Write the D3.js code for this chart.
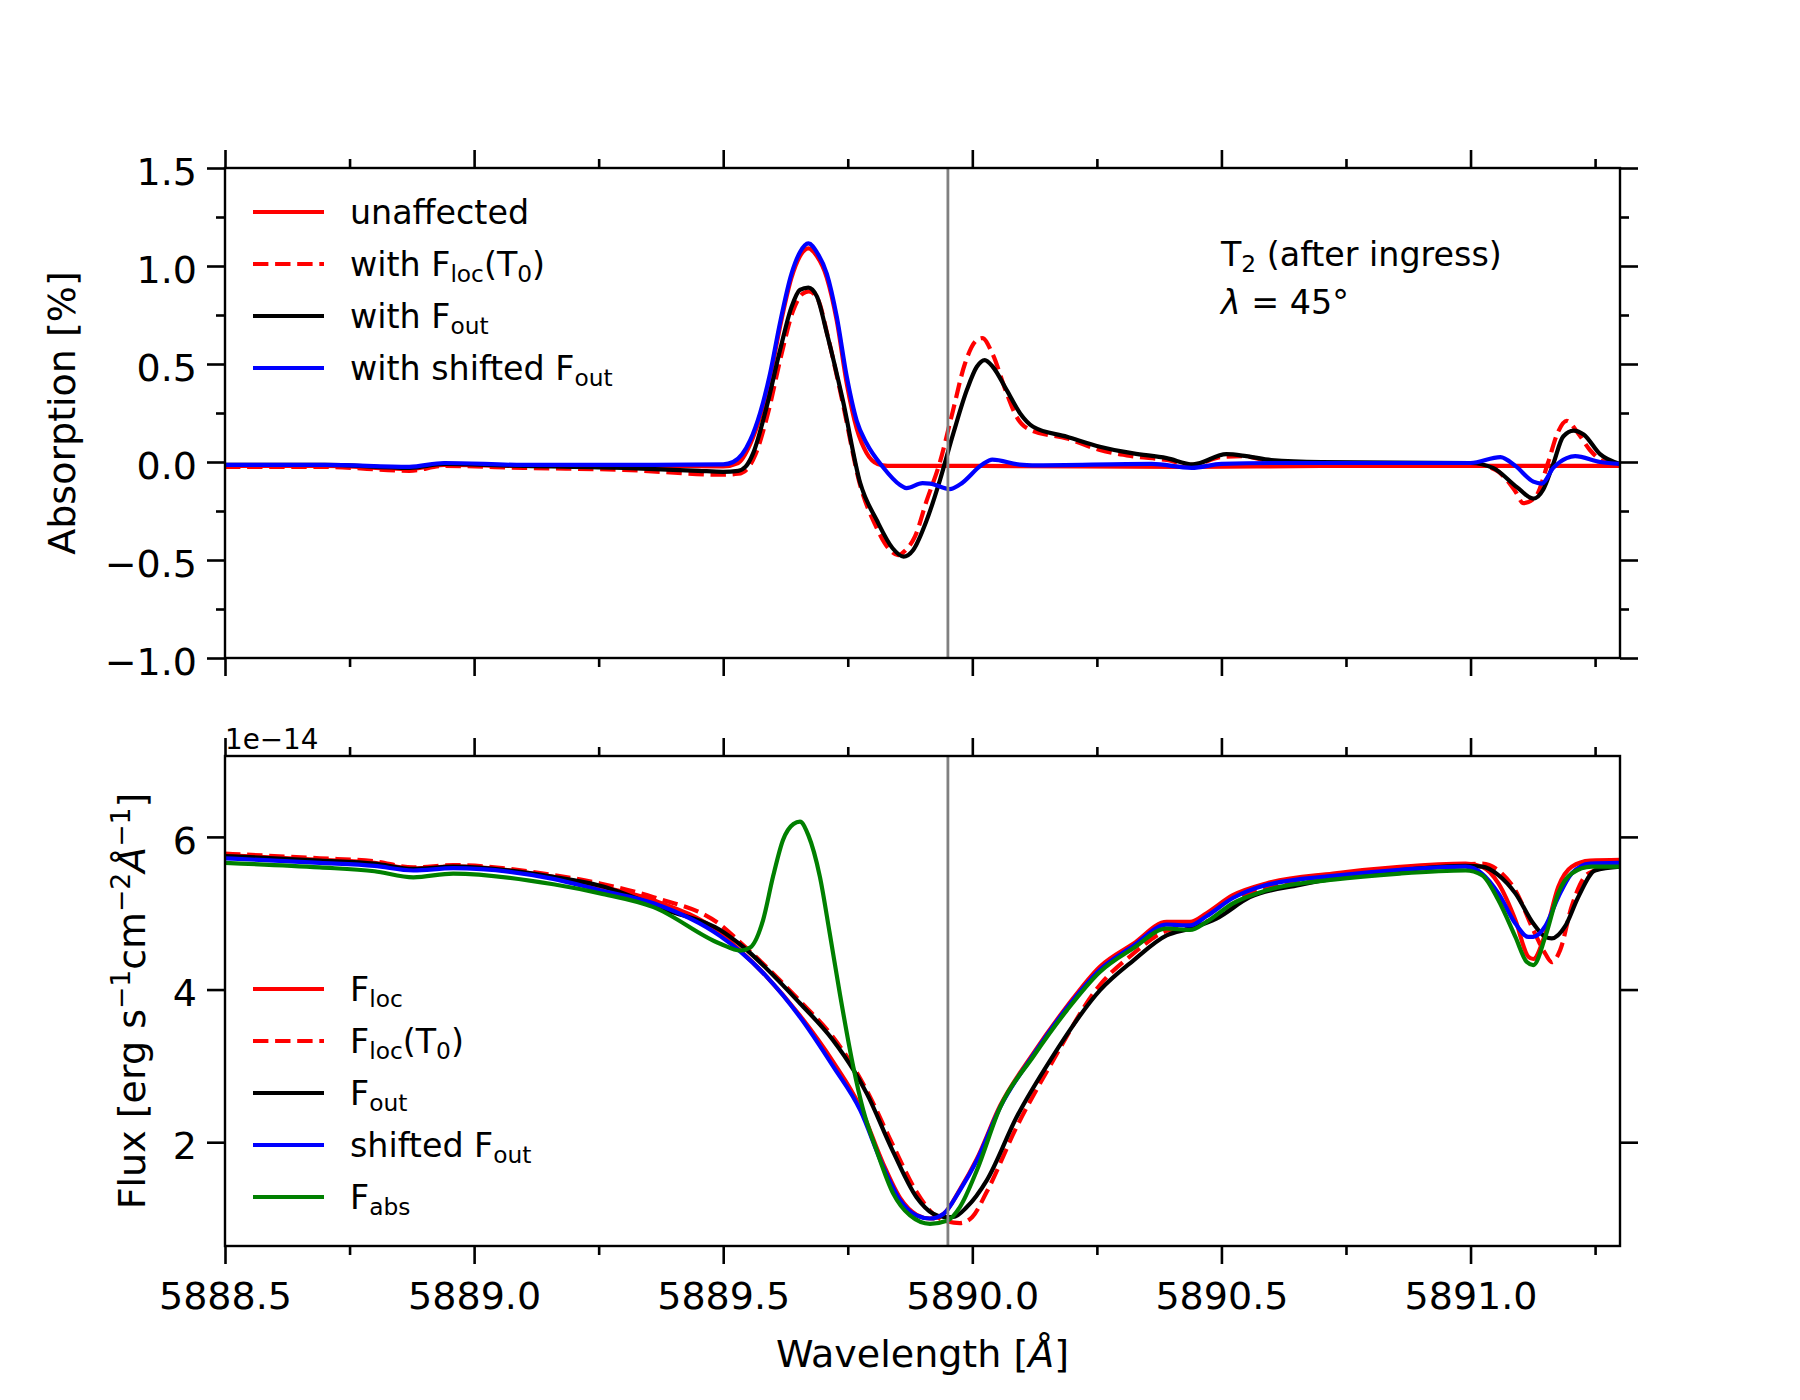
<!DOCTYPE html>
<html>
<head>
<meta charset="utf-8">
<script src="https://cdn.jsdelivr.net/npm/d3@7"></script>
<style>
  body { margin: 0; background: #fff; }
  text { font-family: "DejaVu Sans", sans-serif; fill: #000; }
</style>
</head>
<body>
<svg id="chart" width="1800" height="1400"></svg>
<script>
// ---- top panel: absorption [%] ----
var absUnaffWl = [5888.5, 5888.7, 5888.87, 5888.94, 5889.1, 5889.3, 5889.5, 5889.53, 5889.554, 5889.574, 5889.594, 5889.614, 5889.637, 5889.654, 5889.671, 5889.688, 5889.708, 5889.728, 5889.748, 5889.768, 5889.788, 5889.81, 5889.83, 5890.0, 5890.44, 5890.7, 5891.0, 5891.3];
var absUnaff = [-0.02, -0.02, -0.035, -0.015, -0.02, -0.02, -0.022, -0.005, 0.09, 0.23, 0.43, 0.69, 0.94, 1.05, 1.09, 1.05, 0.94, 0.72, 0.40, 0.17, 0.045, -0.01, -0.02, -0.02, -0.025, -0.02, -0.02, -0.02];

var absLocT0Wl = [5888.5, 5888.7, 5888.87, 5888.94, 5889.1, 5889.3, 5889.5, 5889.53, 5889.55, 5889.565, 5889.59, 5889.617, 5889.64, 5889.66, 5889.672, 5889.69, 5889.71, 5889.74, 5889.775, 5889.805, 5889.835, 5889.851, 5889.866, 5889.885, 5889.908, 5889.935, 5889.96, 5889.985, 5890.008, 5890.02, 5890.04, 5890.069, 5890.089, 5890.12, 5890.19, 5890.256, 5890.32, 5890.39, 5890.44, 5890.5, 5890.54, 5890.6, 5890.7, 5891.0, 5891.05, 5891.09, 5891.106, 5891.13, 5891.156, 5891.175, 5891.193, 5891.215, 5891.24, 5891.27, 5891.3];
var absLocT0 = [-0.025, -0.025, -0.045, -0.02, -0.03, -0.04, -0.065, -0.06, -0.03, 0.04, 0.25, 0.55, 0.77, 0.86, 0.87, 0.83, 0.64, 0.30, -0.12, -0.32, -0.45, -0.475, -0.45, -0.38, -0.2, 0.0, 0.25, 0.5, 0.62, 0.632, 0.555, 0.35, 0.23, 0.16, 0.12, 0.061, 0.03, 0.01, -0.015, 0.025, 0.03, 0.005, -0.005, -0.01, -0.04, -0.15, -0.21, -0.18, 0.0, 0.15, 0.21, 0.15, 0.06, 0.0, -0.01];

var absOutWl = [5888.5, 5888.7, 5888.87, 5888.94, 5889.1, 5889.3, 5889.45, 5889.5, 5889.53, 5889.545, 5889.56, 5889.587, 5889.614, 5889.637, 5889.654, 5889.671, 5889.688, 5889.708, 5889.74, 5889.775, 5889.808, 5889.84, 5889.862, 5889.881, 5889.908, 5889.935, 5889.962, 5889.989, 5890.009, 5890.025, 5890.041, 5890.069, 5890.096, 5890.122, 5890.19, 5890.256, 5890.323, 5890.39, 5890.443, 5890.51, 5890.55, 5890.6, 5890.7, 5891.0, 5891.045, 5891.093, 5891.126, 5891.146, 5891.166, 5891.186, 5891.207, 5891.227, 5891.26, 5891.3];
var absOut = [-0.015, -0.015, -0.03, -0.01, -0.02, -0.03, -0.045, -0.05, -0.045, -0.024, 0.044, 0.28, 0.57, 0.79, 0.878, 0.89, 0.845, 0.657, 0.316, -0.108, -0.296, -0.44, -0.483, -0.45, -0.30, -0.092, 0.147, 0.367, 0.486, 0.52, 0.486, 0.367, 0.248, 0.18, 0.129, 0.078, 0.044, 0.02, -0.012, 0.04, 0.03, 0.01, 0.0, -0.005, -0.03, -0.128, -0.187, -0.14, -0.01, 0.13, 0.16, 0.14, 0.04, -0.01];

var absShiftWl = [5888.5, 5888.7, 5888.87, 5888.94, 5889.1, 5889.3, 5889.5, 5889.52, 5889.554, 5889.574, 5889.594, 5889.614, 5889.637, 5889.654, 5889.671, 5889.688, 5889.708, 5889.728, 5889.748, 5889.768, 5889.788, 5889.82, 5889.855, 5889.868, 5889.9, 5889.915, 5889.955, 5889.975, 5890.02, 5890.04, 5890.095, 5890.12, 5890.36, 5890.44, 5890.5, 5890.6, 5891.0, 5891.06, 5891.09, 5891.126, 5891.143, 5891.166, 5891.193, 5891.21, 5891.26, 5891.3];
var absShift = [-0.015, -0.015, -0.025, -0.005, -0.015, -0.015, -0.012, 0.0, 0.11, 0.25, 0.45, 0.71, 0.96, 1.07, 1.115, 1.07, 0.96, 0.74, 0.435, 0.21, 0.094, -0.024, -0.117, -0.133, -0.108, -0.11, -0.138, -0.115, -0.013, 0.012, -0.013, -0.017, -0.01, -0.03, -0.01, -0.005, -0.005, 0.025, -0.02, -0.10, -0.11, -0.03, 0.02, 0.03, 0.0, -0.01];

// ---- bottom panel: flux [1e-14 erg/s/cm2/A] ----
var fluxLocWl = [5888.5, 5888.69, 5888.8, 5888.878, 5888.958, 5889.159, 5889.253, 5889.36, 5889.494, 5889.534, 5889.587, 5889.654, 5889.721, 5889.775, 5889.821, 5889.855, 5889.888, 5889.915, 5889.942, 5889.975, 5890.009, 5890.056, 5890.122, 5890.19, 5890.256, 5890.323, 5890.39, 5890.437, 5890.47, 5890.523, 5890.59, 5890.724, 5890.858, 5890.99, 5891.023, 5891.056, 5891.09, 5891.116, 5891.126, 5891.15, 5891.176, 5891.203, 5891.24, 5891.3];
var fluxLoc = [5.76, 5.70, 5.66, 5.585, 5.615, 5.476, 5.35, 5.17, 4.74, 4.51, 4.17, 3.66, 3.05, 2.46, 1.72, 1.27, 1.05, 1.0, 1.06, 1.38, 1.78, 2.48, 3.16, 3.78, 4.30, 4.60, 4.886, 4.886, 5.0, 5.236, 5.39, 5.52, 5.607, 5.65, 5.61, 5.39, 4.91, 4.43, 4.40, 4.73, 5.345, 5.61, 5.69, 5.70];
var fluxShift = [5.72, 5.66, 5.62, 5.56, 5.59, 5.45, 5.30, 5.13, 4.70, 4.50, 4.17, 3.64, 2.99, 2.42, 1.68, 1.24, 1.04, 1.0, 1.06, 1.37, 1.76, 2.46, 3.14, 3.76, 4.26, 4.57, 4.85, 4.84, 4.96, 5.20, 5.37, 5.49, 5.57, 5.61, 5.52, 5.26, 4.865, 4.69, 4.69, 4.83, 5.21, 5.52, 5.65, 5.66];

var fluxLocT0Wl = [5888.5, 5888.69, 5888.8, 5888.878, 5888.958, 5889.159, 5889.253, 5889.36, 5889.494, 5889.534, 5889.654, 5889.72, 5889.762, 5889.788, 5889.84, 5889.888, 5889.92, 5889.95, 5889.975, 5890.0, 5890.029, 5890.089, 5890.156, 5890.256, 5890.323, 5890.39, 5890.437, 5890.49, 5890.557, 5890.7, 5890.858, 5890.99, 5891.023, 5891.056, 5891.09, 5891.126, 5891.15, 5891.163, 5891.18, 5891.203, 5891.236, 5891.3];
var fluxLocT0 = [5.78, 5.72, 5.68, 5.60, 5.63, 5.50, 5.39, 5.21, 4.85, 4.62, 3.85, 3.38, 2.98, 2.68, 1.97, 1.35, 1.07, 0.96, 0.94, 1.02, 1.35, 2.20, 3.0, 4.06, 4.47, 4.77, 4.82, 4.95, 5.26, 5.45, 5.59, 5.64, 5.65, 5.56, 5.30, 4.78, 4.47, 4.36, 4.52, 5.09, 5.52, 5.64];

var fluxOutWl = [5888.5, 5888.69, 5888.8, 5888.878, 5888.958, 5889.159, 5889.253, 5889.387, 5889.494, 5889.534, 5889.654, 5889.72, 5889.762, 5889.788, 5889.84, 5889.888, 5889.922, 5889.942, 5889.962, 5889.989, 5890.029, 5890.089, 5890.156, 5890.256, 5890.323, 5890.39, 5890.437, 5890.49, 5890.557, 5890.657, 5890.858, 5890.99, 5891.023, 5891.056, 5891.09, 5891.126, 5891.15, 5891.163, 5891.19, 5891.216, 5891.25, 5891.3];
var fluxOut = [5.75, 5.69, 5.65, 5.58, 5.61, 5.476, 5.36, 5.04, 4.78, 4.59, 3.82, 3.34, 2.94, 2.64, 1.89, 1.28, 1.06, 1.02, 1.02, 1.15, 1.50, 2.33, 3.07, 3.99, 4.38, 4.71, 4.80, 4.93, 5.21, 5.37, 5.56, 5.62, 5.61, 5.50, 5.26, 4.865, 4.69, 4.67, 4.83, 5.21, 5.56, 5.61];

var fluxAbsWl = [5888.5, 5888.69, 5888.8, 5888.878, 5888.958, 5889.159, 5889.253, 5889.36, 5889.494, 5889.534, 5889.554, 5889.58, 5889.60, 5889.62, 5889.641, 5889.654, 5889.671, 5889.694, 5889.714, 5889.734, 5889.761, 5889.781, 5889.808, 5889.841, 5889.875, 5889.915, 5889.949, 5889.975, 5890.009, 5890.056, 5890.122, 5890.19, 5890.256, 5890.323, 5890.39, 5890.437, 5890.47, 5890.523, 5890.59, 5890.724, 5890.858, 5890.99, 5891.023, 5891.056, 5891.09, 5891.113, 5891.126, 5891.15, 5891.176, 5891.203, 5891.243, 5891.3];
var fluxAbs = [5.66, 5.60, 5.55, 5.47, 5.52, 5.38, 5.26, 5.08, 4.60, 4.51, 4.55, 4.91, 5.48, 5.96, 6.17, 6.20, 6.02, 5.48, 4.73, 3.95, 2.99, 2.42, 1.89, 1.33, 1.04, 0.93, 0.97, 1.15, 1.63, 2.46, 3.12, 3.73, 4.23, 4.54, 4.80, 4.78, 4.886, 5.13, 5.30, 5.44, 5.52, 5.56, 5.50, 5.17, 4.69, 4.36, 4.32, 4.69, 5.26, 5.52, 5.61, 5.61];

// ticks
var xMajor = [5888.5, 5889.0, 5889.5, 5890.0, 5890.5, 5891.0];
var xMinor = [5888.75, 5889.25, 5889.75, 5890.25, 5890.75, 5891.25];
var absMajor = [-1.0, -0.5, 0.0, 0.5, 1.0, 1.5];
var absMinor = [-0.75, -0.25, 0.25, 0.75, 1.25];
var fluxMajor = [2, 4, 6];
var naD2 = 5889.951;

var svg = d3.select("#chart");
svg.append("rect").attr("width", 1800).attr("height", 1400).attr("fill", "#fff");

const axL = 225, axR = 1620;
const tickFs = 38, legFs = 33.3;

var x = d3.scaleLinear().domain([5888.5, 5891.3]).range([axL, axR]);
var yTop = d3.scaleLinear().domain([-1.0, 1.5]).range([658, 168]);
var yBot = d3.scaleLinear().domain([0.64, 7.06]).range([1246, 756]);

// text with sub/superscripts (mathtext look-alike)
function rich(textSel, parts, fs) {
    var shift = 0;
    parts.forEach(function (p) {
        var ts = textSel.append("tspan").text(p.t);
        var target = 0, size = fs;
        if (p.sub) { target = 0.17 * fs; size = 0.7 * fs; }
        if (p.sup) { target = -0.4 * fs; size = 0.7 * fs; }
        ts.attr("font-size", size).attr("dy", target - shift);
        if (p.it) ts.attr("font-style", "italic");
        shift = target;
    });
}

function styleAxis(g) {
    g.select(".domain").remove();
    g.selectAll(".tick line").attr("stroke", "#000").attr("stroke-width", 2.6);
    g.selectAll(".tick text").attr("font-size", tickFs).attr("font-family", "DejaVu Sans");
}

function panel(id, y, yMajor, yMinor, yFmt, xLabels) {
    var top = y.range()[1], bottom = y.range()[0];
    var g = svg.append("g");

    svg.append("clipPath").attr("id", "clip" + id)
        .append("rect").attr("x", axL).attr("y", top)
        .attr("width", axR - axL).attr("height", bottom - top);

    // x axes bottom + top
    var xb = g.append("g").attr("transform", "translate(0," + bottom + ")")
        .call(d3.axisBottom(x).tickValues(xMajor).tickSize(18).tickPadding(10)
            .tickFormat(xLabels ? d3.format(".1f") : ""));
    styleAxis(xb);
    xb.selectAll(".tick text").attr("dy", "0.92em");
    var xbm = g.append("g").attr("transform", "translate(0," + bottom + ")")
        .call(d3.axisBottom(x).tickValues(xMinor).tickSize(9).tickFormat(""));
    styleAxis(xbm);
    var xt = g.append("g").attr("transform", "translate(0," + top + ")")
        .call(d3.axisTop(x).tickValues(xMajor).tickSize(18).tickFormat(""));
    styleAxis(xt);
    var xtm = g.append("g").attr("transform", "translate(0," + top + ")")
        .call(d3.axisTop(x).tickValues(xMinor).tickSize(9).tickFormat(""));
    styleAxis(xtm);

    // y axes left + right
    var yl = g.append("g").attr("transform", "translate(" + axL + ",0)")
        .call(d3.axisLeft(y).tickValues(yMajor).tickSize(18).tickPadding(10).tickFormat(yFmt));
    styleAxis(yl);
    yl.selectAll(".tick text").attr("dy", "0.43em");
    var yr = g.append("g").attr("transform", "translate(" + axR + ",0)")
        .call(d3.axisRight(y).tickValues(yMajor).tickSize(18).tickFormat(""));
    styleAxis(yr);
    if (yMinor.length) {
        styleAxis(g.append("g").attr("transform", "translate(" + axL + ",0)")
            .call(d3.axisLeft(y).tickValues(yMinor).tickSize(9).tickFormat("")));
        styleAxis(g.append("g").attr("transform", "translate(" + axR + ",0)")
            .call(d3.axisRight(y).tickValues(yMinor).tickSize(9).tickFormat("")));
    }

    var plot = svg.append("g").attr("clip-path", "url(#clip" + id + ")");
    return { plot: plot, top: top, bottom: bottom };
}

function addLine(p, y, wl, vals, color, dashed) {
    var line = d3.line()
        .x(function (d) { return x(d[0]); })
        .y(function (d) { return y(d[1]); })
        .curve(d3.curveMonotoneX);
    p.plot.append("path")
        .datum(d3.zip(wl, vals))
        .attr("d", line)
        .attr("fill", "none")
        .attr("stroke", color)
        .attr("stroke-width", 4.2)
        .attr("stroke-linejoin", "round")
        .attr("stroke-dasharray", dashed ? "15.4,6.7" : null);
}

function addVLine(p) {
    p.plot.append("line")
        .attr("x1", x(naD2)).attr("x2", x(naD2))
        .attr("y1", p.top).attr("y2", p.bottom)
        .attr("stroke", "#808080").attr("stroke-width", 2.8);
}

function frame(p) {
    svg.append("rect").attr("x", axL).attr("y", p.top)
        .attr("width", axR - axL).attr("height", p.bottom - p.top)
        .attr("fill", "none").attr("stroke", "#000").attr("stroke-width", 2.4);
}

function legend(rows, items) {
    items.forEach(function (it, i) {
        var cy = rows[i];
        svg.append("line").attr("x1", 253).attr("x2", 324).attr("y1", cy).attr("y2", cy)
            .attr("stroke", it.color).attr("stroke-width", 4.2)
            .attr("stroke-dasharray", it.dashed ? "15.4,6.7" : null);
        var t = svg.append("text").attr("x", 350).attr("y", cy + 12).attr("font-size", legFs);
        rich(t, it.parts, legFs);
    });
}

// ----- top panel -----
var pTop = panel("Top", yTop, absMajor, absMinor, d3.format(".1f"), false);
addLine(pTop, yTop, absUnaffWl, absUnaff, "#ff0000", false);
addLine(pTop, yTop, absLocT0Wl, absLocT0, "#ff0000", true);
addLine(pTop, yTop, absOutWl, absOut, "#000000", false);
addLine(pTop, yTop, absShiftWl, absShift, "#0000ff", false);
addVLine(pTop);
frame(pTop);

legend([212, 264, 316, 368], [
    { color: "#ff0000", parts: [{ t: "unaffected" }] },
    { color: "#ff0000", dashed: true, parts: [{ t: "with F" }, { t: "loc", sub: true }, { t: "(T" }, { t: "0", sub: true }, { t: ")" }] },
    { color: "#000000", parts: [{ t: "with F" }, { t: "out", sub: true }] },
    { color: "#0000ff", parts: [{ t: "with shifted F" }, { t: "out", sub: true }] }
]);

var ann1 = svg.append("text").attr("x", 1221).attr("y", 266).attr("font-size", legFs);
rich(ann1, [{ t: "T" }, { t: "2", sub: true }, { t: " (after ingress)" }], legFs);
var ann2 = svg.append("text").attr("x", 1221).attr("y", 314).attr("font-size", legFs);
rich(ann2, [{ t: "λ", it: true }, { t: " = 45°" }], legFs);

svg.append("text")
    .attr("transform", "translate(75,413) rotate(-90)")
    .attr("text-anchor", "middle").attr("font-size", tickFs)
    .text("Absorption [%]");

// ----- bottom panel -----
var pBot = panel("Bot", yBot, fluxMajor, [], d3.format("d"), true);
addLine(pBot, yBot, fluxLocWl, fluxLoc, "#ff0000", false);
addLine(pBot, yBot, fluxLocT0Wl, fluxLocT0, "#ff0000", true);
addLine(pBot, yBot, fluxOutWl, fluxOut, "#000000", false);
addLine(pBot, yBot, fluxLocWl, fluxShift, "#0000ff", false);
addLine(pBot, yBot, fluxAbsWl, fluxAbs, "#008000", false);
addVLine(pBot);
frame(pBot);

legend([989, 1041, 1093, 1145, 1197], [
    { color: "#ff0000", parts: [{ t: "F" }, { t: "loc", sub: true }] },
    { color: "#ff0000", dashed: true, parts: [{ t: "F" }, { t: "loc", sub: true }, { t: "(T" }, { t: "0", sub: true }, { t: ")" }] },
    { color: "#000000", parts: [{ t: "F" }, { t: "out", sub: true }] },
    { color: "#0000ff", parts: [{ t: "shifted F" }, { t: "out", sub: true }] },
    { color: "#008000", parts: [{ t: "F" }, { t: "abs", sub: true }] }
]);

svg.append("text").attr("x", 225).attr("y", 749).attr("font-size", 27.8).text("1e\u221214");

var fl = svg.append("text")
    .attr("transform", "translate(145,1001) rotate(-90)")
    .attr("text-anchor", "middle").attr("font-size", tickFs);
rich(fl, [{ t: "Flux [erg s" }, { t: "\u22121", sup: true }, { t: "cm" }, { t: "\u22122", sup: true },
    { t: "Å", it: true }, { t: "\u22121", sup: true }, { t: "]" }], tickFs);

var xl = svg.append("text").attr("x", 922.5).attr("y", 1367)
    .attr("text-anchor", "middle").attr("font-size", tickFs);
rich(xl, [{ t: "Wavelength [" }, { t: "Å", it: true }, { t: "]" }], tickFs);
</script>
</body>
</html>
